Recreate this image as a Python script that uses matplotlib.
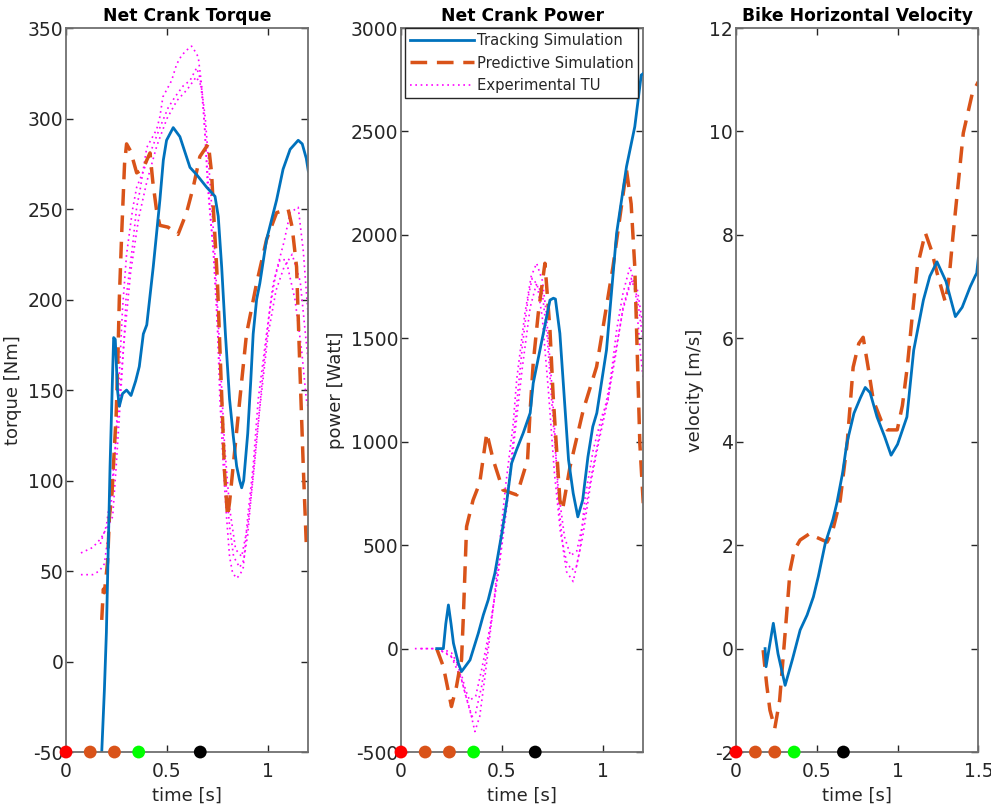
import matplotlib
matplotlib.use('Agg')
import matplotlib.pyplot as plt

plt.rcParams['font.family'] = ['DejaVu Sans']
plt.rcParams['axes.unicode_minus'] = False

# colours (matlab defaults)
BLUE = '#0072BD'
ORANGE = '#D95319'
MAGENTA = '#FF00FF'

# ---- net crank torque ----
t_trq_track = [0.177, 0.19, 0.2, 0.218, 0.231, 0.236, 0.244, 0.255, 0.264, 0.28, 0.3, 0.322, 0.345, 0.363,
               0.383, 0.4, 0.432, 0.449, 0.465, 0.482, 0.498, 0.531, 0.564, 0.614, 0.647, 0.697, 0.738, 0.754,
               0.771, 0.79, 0.81, 0.828, 0.845, 0.86, 0.87, 0.88, 0.9, 0.915, 0.927, 0.944, 0.96, 0.993, 1.043,
               1.075, 1.11, 1.15, 1.17, 1.19, 1.2]
trq_track = [-50, -16, 16, 107, 160, 179, 178, 150, 141, 148, 150, 147, 155, 163,
             181, 186, 218, 237, 255, 277, 288, 295, 290, 273, 269, 262, 257, 246,
             218, 180, 145, 125, 108, 100, 96, 100, 126, 155, 181, 200, 209, 233, 255,
             272, 283, 288, 286, 278, 271]

t_trq_pred = [0.177, 0.185, 0.19, 0.206, 0.215, 0.228, 0.239, 0.248, 0.256, 0.264, 0.276, 0.29, 0.30, 0.32,
              0.35, 0.38, 0.416, 0.43, 0.45, 0.465, 0.505, 0.555, 0.597, 0.63, 0.663, 0.705, 0.721, 0.73,
              0.75, 0.77, 0.785, 0.80, 0.81, 0.828, 0.861, 0.894, 0.944, 0.993, 1.043, 1.10, 1.12, 1.142,
              1.158, 1.175, 1.19]
trq_pred = [23, 40, 38, 55, 80, 93, 117, 135, 163, 200, 237, 275, 286, 282,
            270, 272, 281, 265, 248, 241, 240, 236, 248, 262, 279, 286, 270, 250,
            210, 150, 105, 80, 88, 108, 145, 181, 209, 233, 248, 250, 240, 218,
            163, 108, 65]

# experimental trials (TU)
t_trq_exp1 = [0.074, 0.132, 0.173, 0.198, 0.231, 0.248, 0.264, 0.289, 0.297, 0.33, 0.35, 0.366, 0.40, 0.449,
              0.465, 0.48, 0.523, 0.548, 0.573, 0.60, 0.622, 0.64, 0.655, 0.672, 0.688, 0.70, 0.715, 0.73,
              0.746, 0.762, 0.779, 0.795, 0.81, 0.825, 0.845, 0.862, 0.878, 0.9, 0.927, 0.952, 0.993, 1.026,
              1.06, 1.09, 1.134, 1.167, 1.19, 1.2]
trq_exp1 = [60, 63, 68, 73, 80, 107, 135, 181, 200, 230, 251, 260, 284, 294,
            301, 312, 321, 330, 335, 338, 340, 337, 334, 318, 294, 265, 245, 228,
            200, 145, 108, 80, 58, 49, 46, 48, 52, 80, 108, 145, 181, 209,
            222, 222, 200, 172, 145, 140]
t_trq_exp2 = [0.074, 0.132, 0.165, 0.19, 0.215, 0.24, 0.26, 0.28, 0.30, 0.33, 0.35, 0.383, 0.424, 0.465,
              0.506, 0.54, 0.58, 0.614, 0.647, 0.665, 0.68, 0.695, 0.71, 0.73, 0.75, 0.77, 0.79, 0.81,
              0.83, 0.86, 0.88, 0.9, 0.92, 0.95, 0.98, 1.01, 1.04, 1.08, 1.11, 1.15, 1.175, 1.2]
trq_exp2 = [48, 48, 50, 54, 75, 110, 150, 195, 225, 250, 262, 271, 283, 295,
            306, 312, 318, 321, 328, 322, 305, 280, 255, 225, 185, 140, 100, 75,
            58, 52, 56, 70, 95, 130, 165, 195, 215, 232, 248, 251, 227, 190]
t_trq_exp3 = [0.17, 0.2, 0.23, 0.26, 0.29, 0.32, 0.36, 0.40, 0.45, 0.50, 0.55, 0.6, 0.645, 0.67, 0.69,
              0.71, 0.735, 0.76, 0.785, 0.81, 0.84, 0.87, 0.9, 0.93, 0.96, 1.0, 1.04, 1.08, 1.12, 1.16, 1.2]
trq_exp3 = [65, 75, 100, 140, 180, 215, 245, 265, 285, 300, 310, 316, 323, 318, 300,
            270, 230, 175, 120, 85, 62, 58, 75, 105, 140, 180, 205, 218, 225, 210, 165]

# ---- net crank power ----
t_pow_track = [0.177, 0.21, 0.222, 0.235, 0.248, 0.26, 0.284, 0.30, 0.342, 0.383, 0.408, 0.432, 0.465, 0.5,
               0.525, 0.548, 0.572, 0.605, 0.64, 0.655, 0.705, 0.738, 0.755, 0.765, 0.787, 0.804, 0.83,
               0.853, 0.876, 0.9, 0.926, 0.95, 0.97, 1.018, 1.068, 1.117, 1.158, 1.19, 1.2]
pow_track = [0, 0, 120, 211, 120, 26, -70, -111, -55, 74, 163, 235, 364, 560,
             719, 896, 960, 1041, 1139, 1283, 1524, 1685, 1694, 1690, 1524, 1283, 912,
             751, 637, 718, 927, 1073, 1139, 1444, 2008, 2330, 2523, 2773, 2780]

t_pow_pred = [0.177, 0.21, 0.25, 0.275, 0.29, 0.3, 0.309, 0.325, 0.357, 0.39, 0.425, 0.457, 0.505, 0.574,
              0.627, 0.639, 0.655, 0.68, 0.713, 0.738, 0.754, 0.787, 0.80, 0.837, 0.903, 0.969, 1.05,
              1.117, 1.14, 1.158, 1.183, 1.2]
pow_pred = [0, -87, -280, -183, -100, -55, 155, 590, 718, 801, 1043, 912, 767, 743,
            912, 1138, 1380, 1621, 1863, 1540, 1218, 718, 670, 878, 1154, 1363, 1846,
            2314, 2150, 1846, 993, 703]

t_pow_exp1 = [0.069, 0.177, 0.243, 0.284, 0.317, 0.342, 0.366, 0.39, 0.416, 0.44, 0.465, 0.48, 0.52, 0.556,
              0.573, 0.614, 0.645, 0.672, 0.7, 0.72, 0.745, 0.762, 0.779, 0.804, 0.82, 0.853, 0.886, 0.91,
              0.952, 0.994, 1.026, 1.068, 1.1, 1.134, 1.16, 1.183, 1.2]
pow_exp1 = [0, 0, -30, -87, -215, -296, -401, -328, -135, 58, 269, 429, 800, 1089,
            1299, 1621, 1800, 1863, 1780, 1621, 1300, 1043, 718, 477, 372, 324, 477, 718,
            960, 1121, 1202, 1540, 1720, 1846, 1750, 1460, 1300]
t_pow_exp2 = [0.1, 0.18, 0.25, 0.3, 0.33, 0.35, 0.37, 0.40, 0.43, 0.46, 0.5, 0.55, 0.6, 0.63, 0.65, 0.675,
              0.70, 0.73, 0.76, 0.79, 0.82, 0.845, 0.87, 0.9, 0.94, 0.98, 1.02, 1.06, 1.1, 1.14, 1.17, 1.2]
pow_exp2 = [0, 0, -40, -150, -260, -330, -310, -180, 20, 220, 520, 950, 1450, 1700, 1790, 1760,
            1600, 1250, 850, 560, 420, 380, 400, 540, 800, 1000, 1180, 1400, 1650, 1790, 1700, 1480]
t_pow_exp3 = [0.2, 0.25, 0.29, 0.32, 0.34, 0.37, 0.40, 0.44, 0.48, 0.52, 0.56, 0.6, 0.64, 0.67, 0.7,
              0.725, 0.75, 0.78, 0.81, 0.84, 0.87, 0.9, 0.94, 0.98, 1.02, 1.06, 1.1, 1.14, 1.17, 1.2]
pow_exp3 = [0, -20, -90, -200, -250, -230, -100, 100, 350, 650, 1000, 1350, 1650, 1760, 1720,
            1500, 1150, 760, 540, 450, 470, 600, 820, 1020, 1210, 1420, 1640, 1780, 1740, 1550]

# ---- bike horizontal velocity ----
t_vel_track = [0.18, 0.186, 0.21, 0.231, 0.26, 0.304, 0.35, 0.397, 0.44, 0.479, 0.51, 0.552, 0.6, 0.624,
               0.66, 0.686, 0.73, 0.77, 0.80, 0.83, 0.873, 0.92, 0.96, 1.0, 1.058, 1.1, 1.16, 1.2, 1.244,
               1.3, 1.358, 1.4, 1.45, 1.48, 1.49, 1.5]
vel_track = [0.0, -0.35, 0.1, 0.49, -0.1, -0.71, -0.2, 0.36, 0.65, 1.0, 1.4, 2.03, 2.5, 2.81,
             3.4, 3.97, 4.55, 4.85, 5.05, 4.95, 4.48, 4.1, 3.74, 3.95, 4.48, 5.77, 6.74, 7.2, 7.48,
             7.1, 6.42, 6.6, 7.0, 7.2, 7.26, 7.55]

t_vel_pred = [0.168, 0.19, 0.21, 0.24, 0.27, 0.304, 0.335, 0.36, 0.397, 0.459, 0.5, 0.564, 0.6, 0.645,
              0.688, 0.725, 0.76, 0.787, 0.82, 0.85, 0.9, 0.936, 0.998, 1.03, 1.06, 1.09, 1.122, 1.172,
              1.21, 1.245, 1.296, 1.32, 1.345, 1.407, 1.463, 1.5]
vel_pred = [-0.03, -0.7, -1.19, -1.54, -1.0, 0.3, 1.52, 1.9, 2.1, 2.23, 2.15, 2.06, 2.3, 2.87,
            3.97, 5.44, 5.9, 6.02, 5.4, 4.8, 4.4, 4.23, 4.23, 4.7, 5.44, 6.4, 7.38, 8.04,
            7.7, 7.26, 6.7, 7.2, 8.04, 9.97, 10.74, 10.96]

# gait events drawn on the time axis
t_events = [0, 0.12, 0.24, 0.36, 0.665]
event_colors = ['#FF0000', ORANGE, ORANGE, '#00FF00', '#000000']

titles = ['Net Crank Torque', 'Net Crank Power', 'Bike Horizontal Velocity']
ylabels = ['torque [Nm]', 'power [Watt]', 'velocity [m/s]']
ylims = [(-50, 350), (-500, 3000), (-2, 12)]
xlims = [(0, 1.2), (0, 1.2), (0, 1.5)]
xticks = [[0, 0.5, 1], [0, 0.5, 1], [0, 0.5, 1, 1.5]]
yticks = [range(-50, 351, 50), range(-500, 3001, 500), range(-2, 13, 2)]

fig = plt.figure(figsize=(9.91, 8.11), dpi=100)
lefts = [0.0666, 0.4046, 0.7427]
axes = [fig.add_axes([l, 0.0727, 0.2445, 0.8927]) for l in lefts]

dot = (0, (1, 2.2))
dash = (0, (4.8, 2.8))

ax = axes[0]
ax.plot(t_trq_exp1, trq_exp1, color=MAGENTA, lw=1.2, ls=dot)
ax.plot(t_trq_exp2, trq_exp2, color=MAGENTA, lw=1.2, ls=dot)
ax.plot(t_trq_exp3, trq_exp3, color=MAGENTA, lw=1.2, ls=dot)
ax.plot(t_trq_pred, trq_pred, color=ORANGE, lw=2.5, ls=dash)
ax.plot(t_trq_track, trq_track, color=BLUE, lw=2.0)

ax = axes[1]
ax.plot(t_pow_track, pow_track, color=BLUE, lw=2.0, label='Tracking Simulation', zorder=3)
ax.plot(t_pow_pred, pow_pred, color=ORANGE, lw=2.5, ls=dash, label='Predictive Simulation', zorder=2)
ax.plot(t_pow_exp1, pow_exp1, color=MAGENTA, lw=1.2, ls=dot, label='Experimental TU', zorder=1)
ax.plot(t_pow_exp2, pow_exp2, color=MAGENTA, lw=1.2, ls=dot, zorder=1)
ax.plot(t_pow_exp3, pow_exp3, color=MAGENTA, lw=1.2, ls=dot, zorder=1)
leg = ax.legend(loc='upper right', bbox_to_anchor=(0.98, 1.0), fontsize=10.6, handlelength=4.3,
                handletextpad=0.2, labelspacing=0.5, borderpad=0.35, borderaxespad=0,
                fancybox=False, framealpha=1)
leg.get_frame().set_edgecolor('#262626')
leg.get_frame().set_linewidth(1.0)
for txt in leg.get_texts():
    txt.set_color('#262626')

ax = axes[2]
ax.plot(t_vel_pred, vel_pred, color=ORANGE, lw=2.5, ls=dash)
ax.plot(t_vel_track, vel_track, color=BLUE, lw=2.0)

for i, ax in enumerate(axes):
    ax.set_xlim(xlims[i])
    ax.set_ylim(ylims[i])
    ax.set_xticks(xticks[i])
    ax.set_xticklabels(['%g' % v for v in xticks[i]])
    ax.set_yticks(list(yticks[i]))
    ax.set_title(titles[i], fontsize=12.3, fontweight='bold', pad=5)
    ax.set_xlabel('time [s]', fontsize=13, color='#262626', labelpad=4)
    ax.set_ylabel(ylabels[i], fontsize=13, color='#262626', labelpad=4)
    ax.tick_params(direction='in', top=True, right=True, length=5, width=1.0,
                   labelsize=13.5, labelcolor='#262626', color='#262626')
    ax.tick_params(axis='x', pad=7)
    ax.tick_params(axis='y', pad=2)
    for s in ax.spines.values():
        s.set_color('#707070')
        s.set_linewidth(1.3)
    # event markers sit on the lower axis
    ax.scatter(t_events, [ylims[i][0]] * len(t_events), s=85, c=event_colors,
               zorder=5, clip_on=False, linewidths=0)

fig.savefig('out.png', dpi=100)
